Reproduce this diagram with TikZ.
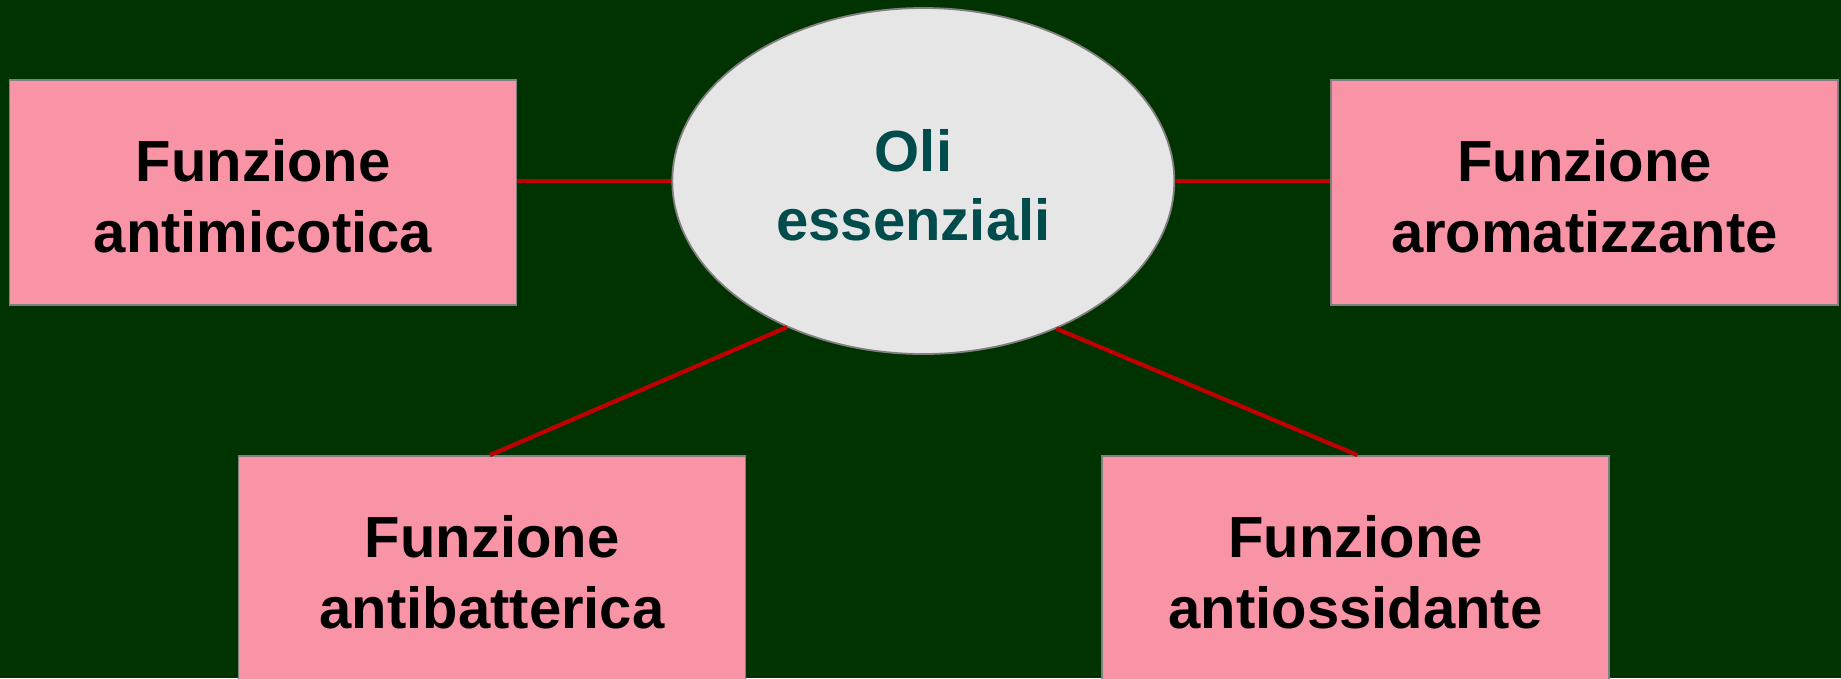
\documentclass[tikz,border=0pt]{standalone}
\usepackage{fontspec}
\setmainfont{Liberation Sans}
\usetikzlibrary{shapes.geometric}
\definecolor{bg}{RGB}{0,51,0}
\definecolor{boxpink}{RGB}{248,148,166}
\definecolor{boxedge}{RGB}{128,128,128}
\definecolor{ovalfill}{RGB}{230,230,230}
\definecolor{ovaltext}{RGB}{0,75,75}
\definecolor{linkred}{RGB}{192,0,0}
\begin{document}
\begin{tikzpicture}[x=1pt,y=-1pt,
  funcbox/.style={rectangle, draw=boxedge, line width=1.8pt, fill=boxpink,
    minimum width=507pt, minimum height=225pt, inner sep=0pt},
  functxt/.style={align=center, inner sep=0pt,
    font=\fontsize{58}{70.6}\selectfont\bfseries, text=black},
  oval/.style={ellipse, draw=boxedge, line width=1.8pt, fill=ovalfill,
    minimum width=502pt, minimum height=346pt, inner sep=0pt},
  ovaltxt/.style={align=center, inner sep=0pt,
    font=\fontsize{58}{69}\selectfont\bfseries, text=ovaltext},
  link/.style={draw=linkred, line width=4.2pt}]
\useasboundingbox (0,0) rectangle (1841,678);
\fill[bg] (0,0) rectangle (1841,678);
% nodes
\node[oval] (oli) at (923.3,181) {};
\node[ovaltxt] (olitext) at (913.5,185.3) {Oli\\essenziali};
\node[funcbox] (micot) at (263,192.5) {};
\node[functxt] (micottext) at (263,196.3) {Funzione\\antimicotica};
\node[funcbox] (aroma) at (1584.5,192.5) {};
\node[functxt] (aromatext) at (1584.5,196.3) {Funzione\\aromatizzante};
\node[funcbox] (batt) at (492,568.5) {};
\node[functxt] (batttext) at (492,572.3) {Funzione\\antibatterica};
\node[funcbox] (ossid) at (1355.5,568.5) {};
\node[functxt] (ossidtext) at (1355.5,572.3) {Funzione\\antiossidante};
% connectors
\draw[link] (oli.west) -- (oli.west -| micot.east);
\draw[link] (oli.east) -- (oli.east -| aroma.west);
\draw[link] (oli.227.8) -- ([xshift=-2pt]batt.north);
\draw[link] (oli.312.8) -- ([xshift=2pt]ossid.north);
\end{tikzpicture}
\end{document}
